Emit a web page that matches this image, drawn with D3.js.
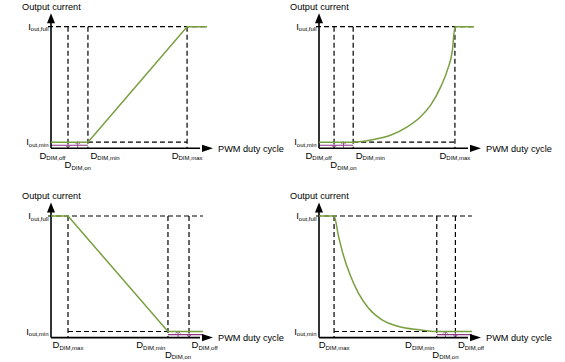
<!DOCTYPE html>
<html>
<head>
<meta charset="utf-8">
<script src="https://cdn.jsdelivr.net/npm/d3@7"></script>
<style>
  body { margin: 0; background: #fff; }
  svg { display: block; }
  text { font-family: "Liberation Sans", Arial, sans-serif; fill: #000; }
</style>
</head>
<body>
<svg id="chart" width="565" height="362"></svg>
<script>
const xTitle = 'PWM duty cycle'
const yTitle = 'Output current'

// current levels (% of full) and their subscripts
const currentLevels = [5, 100]
const currentNames = ['out,min', 'out,full']

// duty cycle break points for each panel, in % of axis length
const dOff = [10.5, 9.3, 85.2, 84.2]
const dOn = [16.5, 15.1, 78.4, 78]
const dMin = [22.8, 21.1, 72.2, 72.7]
const dMax = [84, 83.9, 10.5, 9.3]
const dEnd = [96.3, 95.7, 93.8, 94.4]

const curveUp = [[21.1, 5], [33.7, 7.2], [44.1, 10.7], [54.5, 17.6], [62.7, 25.9], [68.9, 35.5], [75.2, 50.7], [79.3, 64.5], [82.4, 81], [83.9, 100]]
const curveDown = [[9.3, 100], [12, 83.7], [15.1, 67.5], [19.3, 51.2], [24.4, 36.3], [30.6, 24.1], [38.9, 14.6], [49.2, 9.2], [61.7, 6.5], [72.7, 5]]

const lo = currentLevels[0]
const hi = currentLevels[1]
const series = [
  [[0, lo], [dMin[0], lo], [dMax[0], hi], [dEnd[0], hi]],
  [[0, lo], ...curveUp, [dEnd[1], hi]],
  [[0, hi], [dMax[2], hi], [dMin[2], lo], [dEnd[2], lo]],
  [[0, hi], ...curveDown, [dEnd[3], lo]]
]
const rising = [true, true, false, false]
const smooth = [false, true, false, true]

const origins = [
  { x: 51, y: 148.3 },
  { x: 319, y: 148.3 },
  { x: 51, y: 337.6 },
  { x: 319, y: 337.6 }
]

const green = '#79a03f'
const purple = '#8c3a85'

const svg = d3.select('#chart')

origins.forEach((o, i) => {
  const x = d3.scaleLinear().domain([0, 100]).range([o.x, o.x + 162])
  const y = d3.scaleLinear().domain([0, 100]).range([o.y, o.y - 121.6])
  const g = svg.append('g')

  const dash = (x1, y1, x2, y2) =>
    g.append('line')
      .attr('x1', x1).attr('y1', y1).attr('x2', x2).attr('y2', y2)
      .attr('stroke', '#000').attr('stroke-width', 1.2)
      .attr('stroke-dasharray', '5,3')

  // dashed guides
  dash(x(0) - 3, y(hi), x(dEnd[i]), y(hi))
  dash(x(Math.min(dMin[i], dMax[i])), y(lo), x(Math.max(dMin[i], dMax[i])), y(lo))
  ;[dOff[i], dMin[i], dMax[i]].forEach((d) => dash(x(d), y(hi), x(d), y(0)))

  // purple hysteresis band
  const pA = rising[i] ? 0 : dMin[i]
  const pB = rising[i] ? dMin[i] : dEnd[i]
  g.append('line')
    .attr('x1', x(pA)).attr('x2', x(pB))
    .attr('y1', y(0) - 3).attr('y2', y(0) - 3)
    .attr('stroke', purple).attr('stroke-width', 1.1)

  const arrow = (d, down) => {
    const cx = x(d)
    const top = y(lo) - 0.5
    const bot = y(0) - 0.5
    const tip = down ? bot : top
    const s = down ? -1 : 1
    g.append('path')
      .attr('d', `M${cx},${top}L${cx},${bot}M${cx - 2.2},${tip + s * 2.5}L${cx},${tip}L${cx + 2.2},${tip + s * 2.5}`)
      .attr('fill', 'none').attr('stroke', purple).attr('stroke-width', 0.9)
  }
  arrow(dOff[i], true)
  arrow(dOn[i], false)

  // axes
  g.append('line')
    .attr('x1', x(0)).attr('y1', y(0)).attr('x2', x(0)).attr('y2', y(0) - 127)
    .attr('stroke', '#000').attr('stroke-width', 1.6)
  g.append('path')
    .attr('d', `M${x(0) - 4},${y(0) - 125}L${x(0)},${y(0) - 135}L${x(0) + 4},${y(0) - 125}Z`)
    .attr('fill', '#000')
  g.append('line')
    .attr('x1', x(0)).attr('y1', y(0)).attr('x2', x(92)).attr('y2', y(0))
    .attr('stroke', '#000').attr('stroke-width', 1.6)
  g.append('path')
    .attr('d', `M${x(100) - 11},${y(0) - 3.6}L${x(100)},${y(0)}L${x(100) - 11},${y(0) + 3.6}Z`)
    .attr('fill', '#000')

  // output curve
  const line = d3.line()
    .x((d) => x(d[0]))
    .y((d) => y(d[1]))
    .curve(smooth[i] ? d3.curveMonotoneX : d3.curveLinear)
  g.append('path')
    .datum(series[i])
    .attr('fill', 'none')
    .attr('stroke', green)
    .attr('stroke-width', 1.5)
    .attr('d', line)

  // titles
  g.append('text')
    .attr('x', x(0) - 29).attr('y', y(0) - 138.5)
    .style('font-size', '9.2px')
    .text(yTitle)
  g.append('text')
    .attr('x', x(100) + 5).attr('y', y(0) + 3.3)
    .style('font-size', '9.2px')
    .text(xTitle)

  // current level labels
  currentLevels.forEach((c, k) => {
    const t = g.append('text')
      .attr('x', x(0) - 2.5).attr('y', y(c) + 3)
      .attr('text-anchor', 'end')
      .style('font-size', '9.5px')
    t.append('tspan').text('I')
    t.append('tspan').attr('dy', 1.5).style('font-size', '6px').text(currentNames[k])
  })

  // duty cycle labels
  const dLabel = (d, sub, anchor, row) => {
    const xx = anchor === 'end' ? x(d) - 2.5 : anchor === 'start' ? x(d) + 2.5 : x(d)
    const t = g.append('text')
      .attr('x', xx).attr('y', y(0) + (row === 1 ? 10.5 : 20))
      .attr('text-anchor', anchor)
      .style('font-size', '9.5px')
    t.append('tspan').text('D')
    t.append('tspan').attr('dy', 1.5).style('font-size', '6px').text(sub)
  }
  if (rising[i]) {
    dLabel(dOff[i], 'DIM,off', 'end', 1)
    dLabel(dOn[i], 'DIM,on', 'middle', 2)
    dLabel(dMin[i], 'DIM,min', 'start', 1)
    dLabel(dMax[i], 'DIM,max', 'middle', 1)
  } else {
    dLabel(dMax[i], 'DIM,max', 'middle', 1)
    dLabel(dMin[i], 'DIM,min', 'end', 1)
    dLabel(dOn[i], 'DIM,on', 'middle', 2)
    dLabel(dOff[i], 'DIM,off', 'start', 1)
  }
})
</script>
</body>
</html>
